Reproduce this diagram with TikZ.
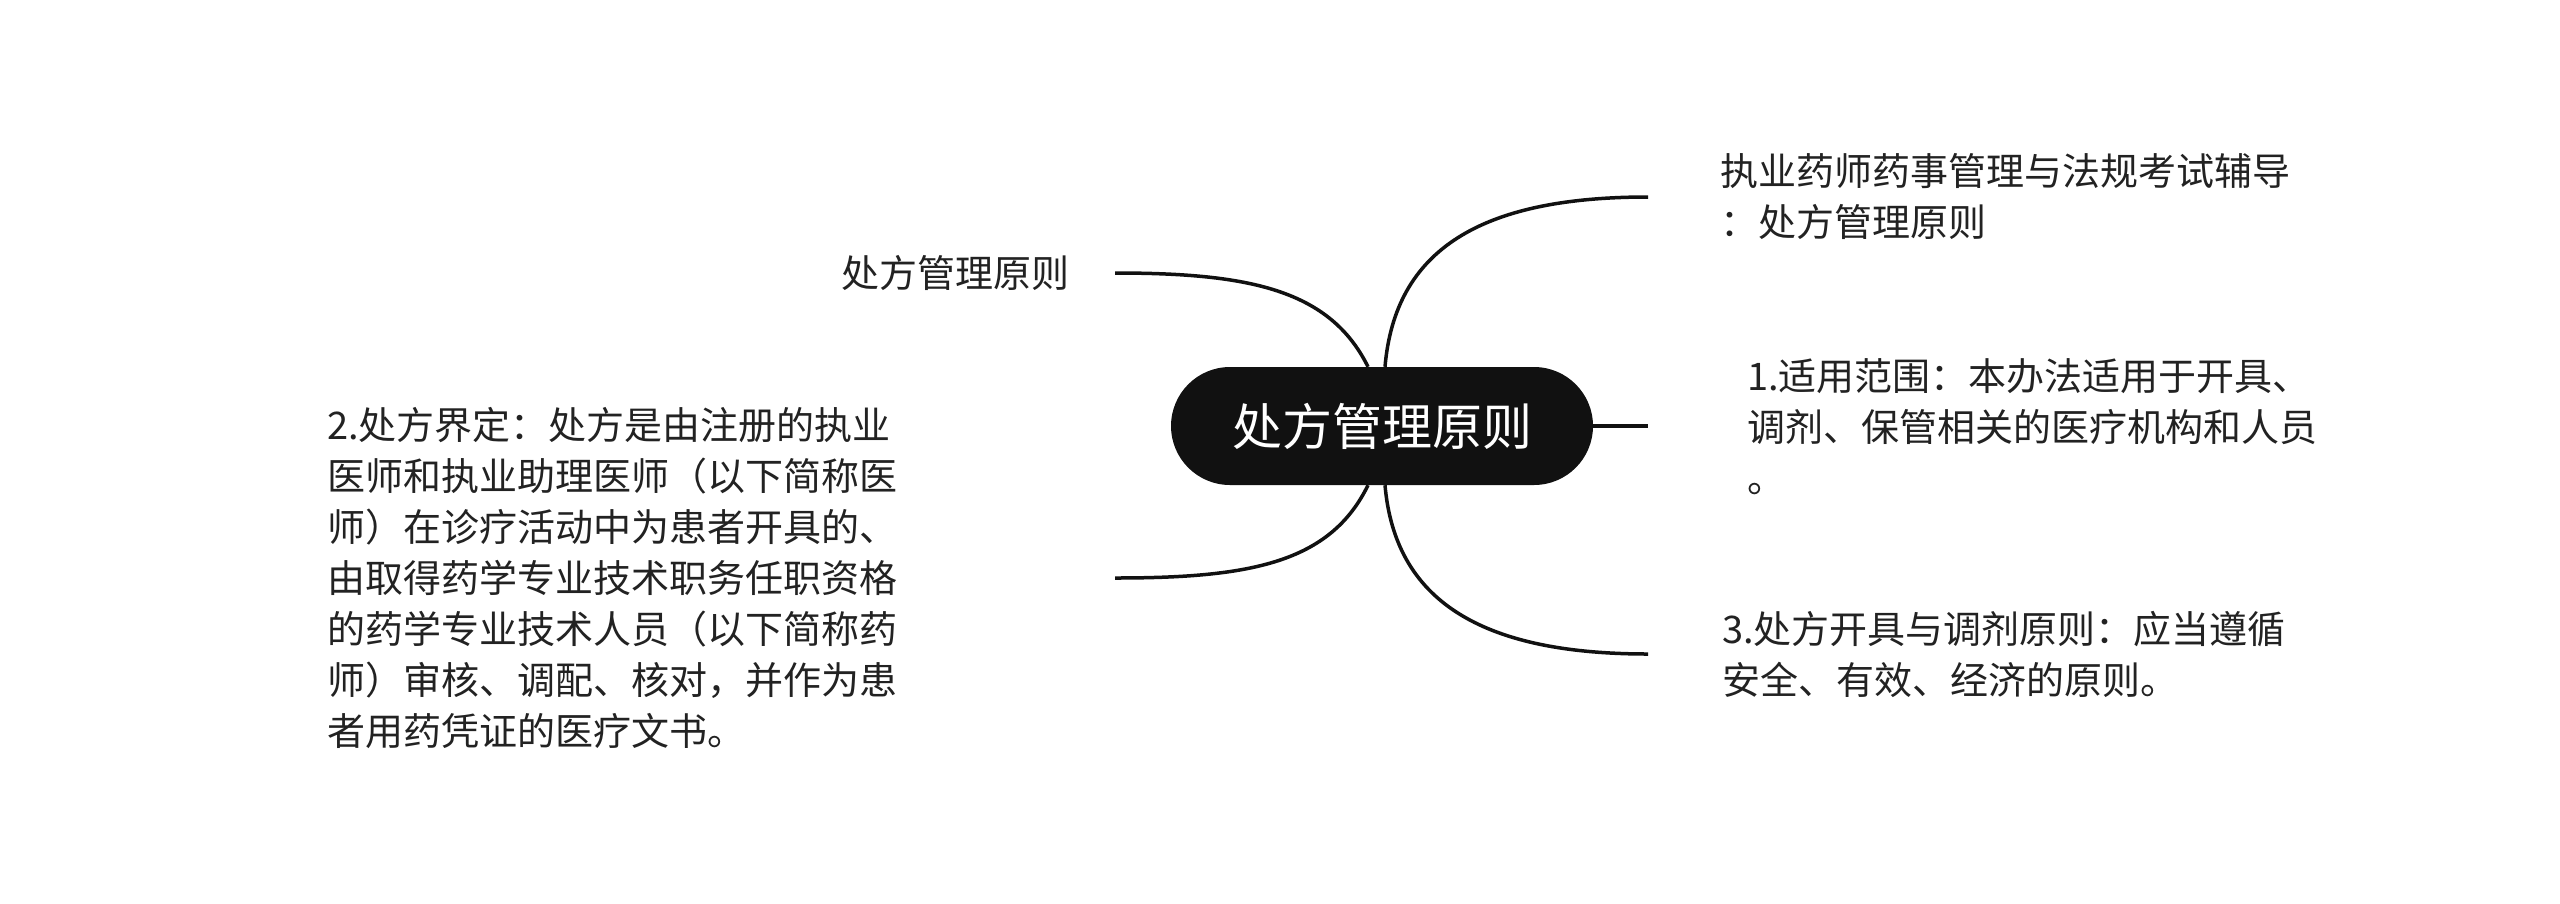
\documentclass[tikz,border=0pt]{standalone}
\usepackage{fontspec}
\setmainfont{Noto Sans CJK SC}
\usetikzlibrary{backgrounds}
\definecolor{ink}{HTML}{222222}
\definecolor{nodefill}{HTML}{111111}
\begin{document}
\begin{tikzpicture}[x=1pt,y=-1pt,
  conn/.style={line width=3.5pt, draw=nodefill},
  leaf/.style={inner sep=0pt, text=ink, font=\fontsize{38pt}{51pt}\selectfont, align=left},
  root/.style={fill=nodefill, text=white, rounded corners=59pt, minimum width=422pt, minimum height=118pt, inner sep=0pt, font=\fontsize{50pt}{60pt}\selectfont}]
\useasboundingbox (0,0) rectangle (2560,903);
\node[root] (c) at (1382,426) {处方管理原则};
\node[leaf, anchor=east] (t0) at (1070,273) {处方管理原则};
\node[leaf, anchor=west] (t2) at (327,578) {2.处方界定：处方是由注册的执业\\医师和执业助理医师（以下简称医\\师）在诊疗活动中为患者开具的、\\由取得药学专业技术职务任职资格\\的药学专业技术人员（以下简称药\\师）审核、调配、核对，并作为患\\者用药凭证的医疗文书。};
\node[leaf, anchor=west] (tr) at (1720,197) {执业药师药事管理与法规考试辅导\\：处方管理原则};
\node[leaf, anchor=west] (t1) at (1747,427) {1.适用范围：本办法适用于开具、\\调剂、保管相关的医疗机构和人员\\。};
\node[leaf, anchor=west] (t3) at (1722,654) {3.处方开具与调剂原则：应当遵循\\安全、有效、经济的原则。};
\coordinate (e0) at (1115,273);
\coordinate (e2) at (1115,578);
\coordinate (er) at (1648,197);
\coordinate (e1) at (1648,426);
\coordinate (e3) at (1648,654);
\begin{scope}[on background layer]
\draw[conn] ([xshift=-14pt]c.north) .. controls (1330,290) and (1250,273) .. (e0);
\draw[conn] ([xshift=-14pt]c.south) .. controls (1330,563) and (1250,578) .. (e2);
\draw[conn] ([xshift=3pt]c.north) .. controls (1395,250) and (1480,197) .. (er);
\draw[conn] (c.east) -- (e1);
\draw[conn] ([xshift=3pt]c.south) .. controls (1395,600) and (1480,654) .. (e3);
\end{scope}
\end{tikzpicture}
\end{document}
